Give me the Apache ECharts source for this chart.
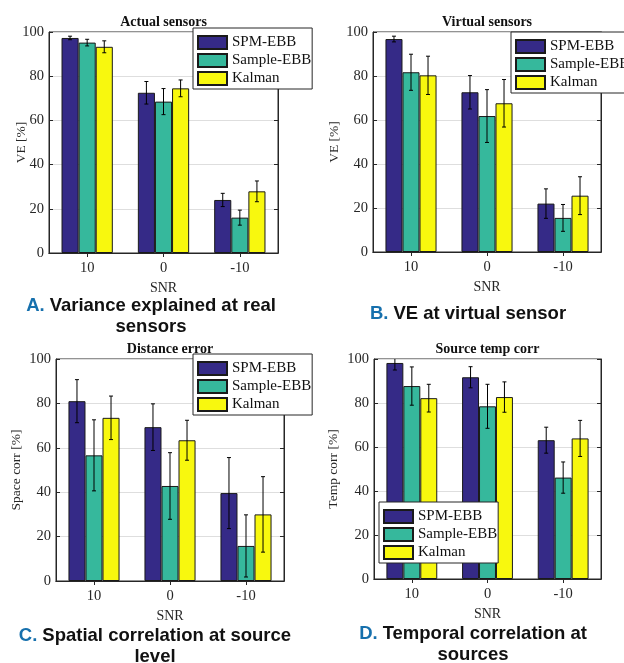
<!DOCTYPE html>
<html><head><meta charset="utf-8">
<script src="https://cdn.jsdelivr.net/npm/echarts@6/dist/echarts.min.js"></script>
<style>html,body{margin:0;padding:0;background:#fff}#c{width:624px;height:663px}</style>
</head><body><div id="c"></div>
<script>
// ---- data ----
const categories = ['10', '0', '-10'];
const seriesNames = ['SPM-EBB', 'Sample-EBB', 'Kalman'];

const actualSPM = [97.3, 72.5, 24.0];
const actualSPMErr = [0.8, 5.1, 3.0];
const actualSample = [95.2, 68.5, 16.0];
const actualSampleErr = [1.5, 5.9, 3.4];
const actualKalman = [93.3, 74.5, 27.9];
const actualKalmanErr = [2.7, 3.8, 4.7];

const virtualSPM = [96.8, 72.6, 22.0];
const virtualSPMErr = [1.3, 7.6, 6.7];
const virtualSample = [81.7, 61.8, 15.5];
const virtualSampleErr = [8.2, 12.0, 6.1];
const virtualKalman = [80.3, 67.6, 25.6];
const virtualKalmanErr = [8.7, 10.8, 8.6];

const spaceSPM = [81.0, 69.3, 39.6];
const spaceSPMErr = [9.7, 10.5, 16.0];
const spaceSample = [56.6, 42.8, 15.8];
const spaceSampleErr = [16.0, 15.0, 14.0];
const spaceKalman = [73.5, 63.4, 30.0];
const spaceKalmanErr = [9.8, 9.0, 17.0];

const tempSPM = [98.2, 91.7, 63.1];
const tempSPMErr = [3.2, 4.8, 5.9];
const tempSample = [87.7, 78.5, 46.1];
const tempSampleErr = [8.7, 10.0, 7.1];
const tempKalman = [82.2, 82.7, 63.9];
const tempKalmanErr = [6.3, 6.9, 8.2];

const panelTitles = ['Actual sensors', 'Virtual sensors', 'Distance error', 'Source temp corr'];
const yNames = ['VE [%]', 'VE [%]', 'Space corr [%]', 'Temp corr [%]'];
const xName = 'SNR';
const captionLetters = ['A.', 'B.', 'C.', 'D.'];
const captionLines = [
  ['Variance explained at real', 'sensors'],
  ['VE at virtual sensor'],
  ['Spatial correlation at source', 'level'],
  ['Temporal correlation at', 'sources']
];

// ---- layout / style ----
const panelValues = [
  [[actualSPM, actualSPMErr], [actualSample, actualSampleErr], [actualKalman, actualKalmanErr]],
  [[virtualSPM, virtualSPMErr], [virtualSample, virtualSampleErr], [virtualKalman, virtualKalmanErr]],
  [[spaceSPM, spaceSPMErr], [spaceSample, spaceSampleErr], [spaceKalman, spaceKalmanErr]],
  [[tempSPM, tempSPMErr], [tempSample, tempSampleErr], [tempKalman, tempKalmanErr]]
];
const grids = [
  {left: 49, top: 32, width: 229, height: 221},
  {left: 373, top: 32, width: 228, height: 220},
  {left: 56, top: 359, width: 228, height: 222},
  {left: 374, top: 359, width: 227, height: 220}
];
const yNameGaps = [21, 32, 33, 34];
const legendPos = [
  {left: 193, top: 28}, {left: 511, top: 32}, {left: 193, top: 354}, {left: 379, top: 502}
];
const captionPos = [
  {x: 151, top: 295}, {x: 468, top: 303}, {x: 155, top: 625}, {x: 473, top: 623}
];
const colors = ['#352a87', '#36b89c', '#f8f80e'];
const BAR_FRAC = 0.224;
const serif = 'Liberation Serif';
const axisColor = '#262626';

const option = {
  animation: false,
  backgroundColor: '#fff',
  grid: [], xAxis: [], yAxis: [], series: [], legend: [], title: []
};

for (let p = 0; p < 4; p++) {
  const g = grids[p];
  option.grid.push(Object.assign({show: true, borderColor: axisColor, borderWidth: 1, backgroundColor: '#fff'}, g));
  option.xAxis.push({
    type: 'category', gridIndex: p, data: categories, position: 'bottom',
    axisLine: {show: true, lineStyle: {color: axisColor}},
    axisTick: {show: true, inside: true, alignWithLabel: true, length: 4, lineStyle: {color: axisColor}},
    axisLabel: {fontFamily: serif, fontSize: 14.5, color: axisColor, margin: 8},
    name: xName, nameLocation: 'middle', nameGap: 28,
    nameTextStyle: {fontFamily: serif, fontSize: 14, color: axisColor}
  });
  option.xAxis.push({
    type: 'category', gridIndex: p, data: categories, position: 'top',
    axisLine: {show: true, lineStyle: {color: axisColor}},
    axisTick: {show: true, inside: true, alignWithLabel: true, length: 4, lineStyle: {color: axisColor}},
    axisLabel: {show: false}
  });
  option.yAxis.push({
    type: 'value', gridIndex: p, min: 0, max: 100, interval: 20, position: 'left',
    axisLine: {show: true, lineStyle: {color: axisColor}},
    axisTick: {show: true, inside: true, length: 4, lineStyle: {color: axisColor}},
    axisLabel: {fontFamily: serif, fontSize: 14.5, color: axisColor, margin: 5},
    splitLine: {show: true, lineStyle: {color: '#dedede', width: 1}},
    name: yNames[p], nameLocation: 'middle', nameGap: yNameGaps[p], nameMoveOverlap: false,
    nameTextStyle: {fontFamily: serif, fontSize: 13.5, color: axisColor}
  });
  option.yAxis.push({
    type: 'value', gridIndex: p, min: 0, max: 100, interval: 20, position: 'right',
    axisLine: {show: true, lineStyle: {color: axisColor}},
    axisTick: {show: true, inside: true, length: 4, lineStyle: {color: axisColor}},
    axisLabel: {show: false}, splitLine: {show: false}
  });
  for (let s = 0; s < 3; s++) {
    const [vals, errs] = panelValues[p][s];
    option.series.push({
      type: 'bar', name: seriesNames[s], xAxisIndex: 2 * p, yAxisIndex: 2 * p,
      data: vals, barWidth: (BAR_FRAC * 100) + '%', barGap: '0%',
      itemStyle: {color: colors[s], borderColor: '#1a1a1a', borderWidth: 1}
    });
    option.series.push({
      type: 'custom', name: seriesNames[s] + ' err', xAxisIndex: 2 * p, yAxisIndex: 2 * p,
      clip: true, z: 5,
      data: vals.map((v, i) => [i, v, errs[i]]),
      renderItem: (function (si) {
        return function (params, api) {
          const ci = api.value(0), v = api.value(1), e = api.value(2);
          const catW = api.size([1, 0])[0];
          const bw = catW * BAR_FRAC;
          const x = api.coord([ci, v])[0] + (si - 1) * bw;
          const yt = api.coord([ci, v + e])[1];
          const yb = api.coord([ci, v - e])[1];
          const st = {stroke: '#000', lineWidth: 1};
          return {type: 'group', children: [
            {type: 'line', shape: {x1: x, y1: yt, x2: x, y2: yb}, style: st},
            {type: 'line', shape: {x1: x - 2, y1: yt, x2: x + 2, y2: yt}, style: st},
            {type: 'line', shape: {x1: x - 2, y1: yb, x2: x + 2, y2: yb}, style: st}
          ]};
        };
      })(s)
    });
  }
  option.legend.push({
    left: legendPos[p].left, top: legendPos[p].top, orient: 'vertical',
    data: seriesNames, selectedMode: false, z: 20,
    backgroundColor: '#fff', borderColor: axisColor, borderWidth: 1,
    padding: [7, 1, 3, 4], itemGap: 3, itemWidth: 29, itemHeight: 13, icon: 'rect',
    textStyle: {fontFamily: serif, fontSize: 15, color: '#111'}
  });
  option.title.push({
    text: panelTitles[p], left: g.left + g.width / 2, top: g.top - 17, textAlign: 'center',
    padding: 0, z: 40,
    textStyle: {fontFamily: serif, fontSize: 14, fontWeight: 'bold', color: '#111'}
  });
  const lines = captionLines[p];
  let txt = '{a|' + captionLetters[p] + '} {b|' + lines[0] + '}';
  for (let k = 1; k < lines.length; k++) txt += '\n{b|' + lines[k] + '}';
  option.title.push({
    text: txt, left: captionPos[p].x, top: captionPos[p].top, textAlign: 'center', padding: 0,
    textStyle: {
      lineHeight: 21,
      rich: {
        a: {fontFamily: 'Liberation Sans', fontSize: 18.5, fontWeight: 'bold', color: '#1670ad', lineHeight: 21},
        b: {fontFamily: 'Liberation Sans', fontSize: 18.5, fontWeight: 'bold', color: '#111', lineHeight: 21}
      }
    }
  });
}

const chart = echarts.init(document.getElementById('c'), null, {renderer: 'canvas'});
chart.setOption(option);
</script></body></html>
